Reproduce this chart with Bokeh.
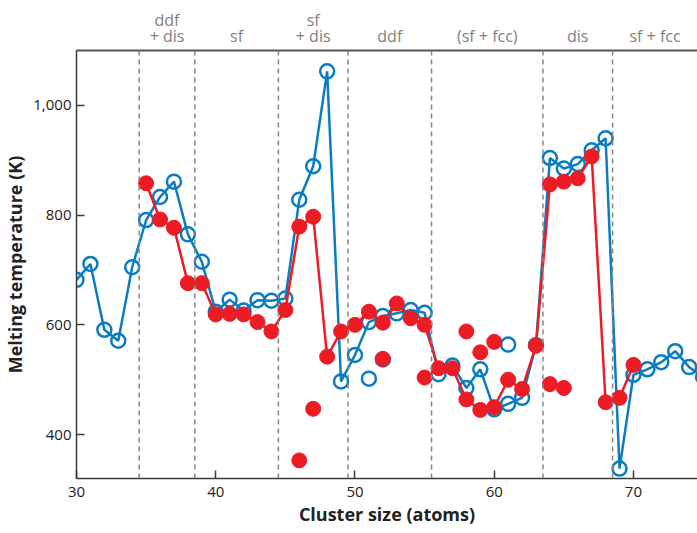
from bokeh.plotting import figure
from bokeh.models import (Range1d, FixedTicker, NumeralTickFormatter, LinearAxis,
                          Span)
from bokeh.embed import file_html
from bokeh.resources import INLINE

# Melting temperatures of the cluster series (K), by cluster size (atoms)
blue_size = list(range(30, 76))
blue_temp = [682, 711, 591, 571, 705, 791, 833, 861, 765, 715,
             624, 646, 626, 645, 644, 648, 828, 889, 1062, 497,
             545, 605, 616, 621, 627, 622, 510, 526, 485, 519,
             446, 456, 467, 563, 904, 885, 893, 918, 940, 338,
             509, 519, 532, 552, 523, 505]
blue_extra_size = [51, 52, 61]
blue_extra_temp = [502, 537, 564]

red_size = list(range(35, 71))
red_temp = [858, 792, 777, 676, 676, 619, 620, 619, 605, 588,
            627, 779, 797, 542, 588, 600, 624, 604, 639, 612,
            600, 521, 521, 464, 445, 450, 500, 483, 562, 856,
            861, 867, 907, 459, 467, 527]
red_extra_size = [46, 47, 52, 55, 58, 59, 60, 64, 65]
red_extra_temp = [353, 447, 538, 504, 588, 550, 569, 492, 485]

# Structural regimes between boundaries
boundaries = [34.5, 38.5, 44.5, 49.5, 55.5, 63.5, 68.5]
regime_labels = ["ddf\n+ dis", "sf", "sf\n+ dis", "ddf",
                 "(sf + fcc)", "dis", "sf + fcc"]

x_ticks = [30, 40, 50, 60, 70]
y_ticks = [400, 600, 800, 1000]

X_MAX = 74.6
BLUE = "#0a7cc1"
RED = "#ed1c24"
FONT = "Open Sans"
INK = "#3a3a3a"

p = figure(width=697, height=533, output_backend="svg", toolbar_location=None,
           x_range=Range1d(30, X_MAX), y_range=Range1d(320, 1100),
           min_border_left=75, min_border_right=0, min_border_top=50,
           min_border_bottom=55)
p.outline_line_color = None
p.xgrid.visible = False
p.ygrid.visible = False

# regime boundaries
for b in boundaries:
    p.add_layout(Span(location=b, dimension="height", line_color="#858585",
                      line_width=1.5, line_dash="5 4"))

# blue series
p.line(blue_size, blue_temp, line_color=BLUE, line_width=2.5)
p.scatter(blue_size, blue_temp, size=14, fill_color=None, line_color=BLUE,
          line_width=2.5)
p.scatter(blue_extra_size, blue_extra_temp, size=14, fill_color=None,
          line_color=BLUE, line_width=2.5)

# red series
p.line(red_size, red_temp, line_color=RED, line_width=2.5)
p.scatter(red_size, red_temp, size=15, fill_color=RED, line_color=RED)
p.scatter(red_extra_size, red_extra_temp, size=15, fill_color=RED, line_color=RED)

# axes
xa = p.xaxis[0]
xa.ticker = FixedTicker(ticks=x_ticks)
xa.axis_label = "Cluster size (atoms)"
ya = p.yaxis[0]
ya.ticker = FixedTicker(ticks=y_ticks)
ya.formatter = NumeralTickFormatter(format="0,0")
ya.axis_label = "Melting temperature (K)"
for ax in (xa, ya):
    ax.axis_line_color = INK
    ax.axis_line_width = 1.5
    ax.major_tick_line_color = INK
    ax.major_tick_line_width = 1.5
    ax.major_tick_in = 8
    ax.major_tick_out = 0
    ax.minor_tick_line_color = None
    ax.major_label_text_font = FONT
    ax.major_label_text_font_size = "15px"
    ax.major_label_text_color = "#222222"
    ax.axis_label_text_font = FONT
    ax.axis_label_text_font_size = "18px"
    ax.axis_label_text_font_style = "bold"
    ax.axis_label_text_color = "#222222"
xa.major_label_standoff = 8
xa.axis_label_standoff = 2
ya.major_label_standoff = 5
ya.axis_label_standoff = 3

# top border carrying the regime names
edges = boundaries + [X_MAX]
centers = [(edges[i] + edges[i + 1]) / 2 for i in range(len(regime_labels))]
top = LinearAxis(ticker=FixedTicker(ticks=centers),
                 major_label_overrides={c: t for c, t in zip(centers, regime_labels)},
                 axis_line_color="#555555", axis_line_width=2,
                 major_tick_line_color=None, minor_tick_line_color=None,
                 major_tick_in=0, major_tick_out=0,
                 major_label_standoff=4, major_label_text_font=FONT,
                 major_label_text_font_size="16px",
                 major_label_text_line_height=0.7,
                 major_label_text_color="#808080")
p.add_layout(top, "above")

open("out.html", "w").write(file_html(p, INLINE))
